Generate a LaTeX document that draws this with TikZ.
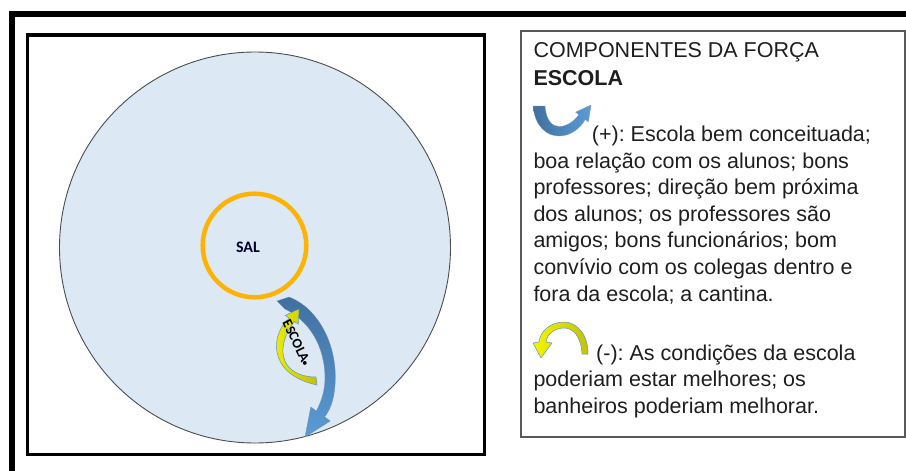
\documentclass[tikz,border=0pt]{standalone}
\usepackage{fontspec}
\setmainfont{Liberation Sans}
\newfontfamily\calfont{Carlito}
\definecolor{bgblue}{HTML}{DDE8F5}
\definecolor{salorange}{HTML}{FFB300}
\definecolor{arrdark}{HTML}{41709F}
\definecolor{arrlight}{HTML}{5B9BD5}
\definecolor{ylw}{HTML}{F5F500}
\definecolor{ylwdark}{HTML}{C2C200}
\definecolor{boxgray}{HTML}{595959}
\definecolor{txtcol}{HTML}{1E1E1E}
\frenchspacing
\begin{document}
\begin{tikzpicture}[x=1pt,y=-1pt,
  txt/.style={anchor=base west, inner sep=0pt, font=\fontsize{21.5}{25}\selectfont, text=txtcol},
  bluearrow/.style={top color=arrdark, bottom color=arrlight, draw=arrdark!80, line width=0.3pt},
  yellowarrow/.style={left color=ylw, right color=ylwdark, draw=arrlight!80!gray, line width=0.5pt}]
\useasboundingbox (0,0) rectangle (906,471);
\clip (0,0) rectangle (906,471);
% outer frame
\draw[line width=6pt] (12,480) -- (12,14) -- (915,14);
% left panel
\draw[line width=3.5pt] (27.5,35) rectangle (484.5,454.5);
\node[circle, minimum size=391pt, inner sep=0pt, fill=bgblue, draw=gray!60!black, line width=0.9pt] (big) at (255,247.5) {};
\node[circle, minimum size=103.6pt, inner sep=0pt, draw=salorange, line width=4.5pt] (sal) at (254.5,245.5) {};
\node[font=\calfont\bfseries\fontsize{16}{16}\selectfont, text=black!85!blue, inner sep=0pt] (saltext) at (248,247.5) {SAL};
% big blue curved arrow
\shade[bluearrow] (289,297) .. controls (318,308) and (338,345) .. (335,385)
  .. controls (334,400) and (330,410) .. (324.6,416.9)
  -- (330.2,421) -- (305,437) -- (310.8,407) -- (316.4,411.1)
  .. controls (322,400) and (325,390) .. (325,378)
  .. controls (325,345) and (308,320) .. (285,309) -- (277,301) -- cycle;
% yellow curved arrow
\shade[yellowarrow] (289.3,318.2) .. controls (271,333) and (266,374) .. (317,385)
  -- (316,377) .. controls (284,377) and (272,352) .. (294.3,321.5)
  -- (298.4,324.2) -- (299,309) -- (285.2,315.4) -- cycle;
\node[font=\calfont\bfseries\fontsize{14}{14}\selectfont, text=black, inner sep=0pt, rotate=-64] (escola) at (297,343) {ESCOLA{\fontsize{9}{9}\selectfont•}};
% right text box
\draw[boxgray, line width=1.3pt] (521,31) rectangle (905,437);
\node[txt] (t1) at (533.3,57.3) {COMPONENTES DA FORÇA};
\node[txt, font=\fontsize{21.5}{25}\selectfont\bfseries] (t2) at (533.3,85) {ESCOLA};
% plus icon
\shade[left color=arrdark, right color=arrlight, draw=arrdark!70, line width=0.3pt]
  (533,106) .. controls (535,127) and (547,136) .. (559,136)
  .. controls (570,136) and (580,129) .. (585.2,119.4)
  -- (588.4,121.8) -- (591,105) -- (575.6,112.2) -- (578.8,114.6)
  .. controls (574,122) and (566,126.5) .. (559,126.5)
  .. controls (552,126.5) and (546,120) .. (545,106) -- cycle;
\node[txt] (p1) at (591.7,141.5) {(+): Escola bem conceituada;};
\node[txt] (p2) at (533.3,168.1) {boa relação com os alunos; bons};
\node[txt] (p3) at (533.3,194.7) {professores; direção bem próxima};
\node[txt] (p4) at (533.3,221.3) {dos alunos; os professores são};
\node[txt] (p5) at (533.3,247.9) {amigos; bons funcionários; bom};
\node[txt] (p6) at (533.3,274.5) {convívio com os colegas dentro e};
\node[txt] (p7) at (533.3,301.1) {fora da escola; a cantina.};
% minus icon
\shade[left color=ylw, right color=ylwdark, draw=arrlight!80!gray, line width=0.5pt]
  (588,354) .. controls (588,332) and (575,322) .. (564,322)
  .. controls (551,322) and (540,331) .. (539,342)
  -- (533,343) -- (541,358) -- (552,343) -- (546,342)
  .. controls (547,334) and (555,328) .. (564,328)
  .. controls (573,328) and (581,336) .. (582,354) -- cycle;
\node[txt] (m1) at (596,360) {(-): As condições da escola};
\node[txt] (m2) at (533.3,386.7) {poderiam estar melhores; os};
\node[txt] (m3) at (533.3,413.3) {banheiros poderiam melhorar.};
\end{tikzpicture}
\end{document}
